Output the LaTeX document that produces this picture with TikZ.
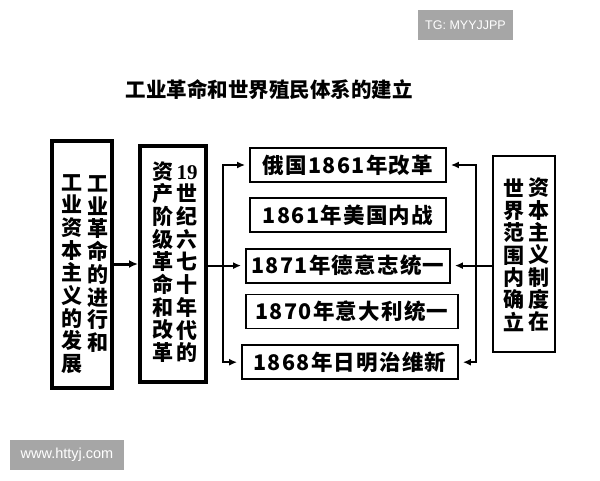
\documentclass[tikz,border=0pt]{standalone}
\usepackage{fontspec}
\newfontfamily\cjk{Noto Sans CJK SC}
\newfontfamily\numfont{Liberation Serif}
\newfontfamily\wmfont{Liberation Sans}
\usetikzlibrary{arrows.meta,positioning}
\definecolor{wmgray}{HTML}{A6A6A6}

\begin{document}
\begin{tikzpicture}[x=1pt,y=-1pt,
    every node/.style={font=\cjk\bfseries,align=center},
    bigbox/.style={draw,line width=4pt,minimum width=60pt},
    box/.style={draw,line width=1.8pt,minimum height=34pt,inner sep=0pt,
      font=\cjk\bfseries\fontsize{21.5}{24}\selectfont\addfontfeatures{LetterSpace=6}},
    col/.style={inner sep=0pt,font=\cjk\bfseries\fontsize{21}{22.7}\selectfont},
    wm/.style={fill=wmgray,text=white,inner sep=0pt},
    arr/.style={line width=2pt,-{Latex[length=8pt,width=7pt]},shorten >=4pt},
    bigarr/.style={line width=3pt,-{Latex[length=9pt,width=8pt]}}
  ]
  \useasboundingbox[fill=white] (0,0) rectangle (600,480);

  % title and watermarks
  \node[font=\cjk\bfseries\fontsize{20.5}{24}\selectfont] (title) at (269,90) {工业革命和世界殖民体系的建立};
  \node[wm,minimum width=95pt,minimum height=30pt,font=\wmfont\fontsize{12.5}{14}\selectfont] (tg) at (465.5,25) {TG: MYYJJPP};
  \node[wm,minimum width=114pt,minimum height=30pt,font=\wmfont\fontsize{14.5}{16}\selectfont] (site) at (67,455) {www.httyj.com};

  % left: industrial revolution
  \node[bigbox,minimum height=247pt] (ind) at (82,264) {};
  \node[col] (indr) at (98,264) {工\\业\\革\\命\\的\\进\\行\\和};
  \node[col] (indl) at (72,274) {工\\业\\资\\本\\主\\义\\的\\发\\展};

  % bourgeois revolutions
  \node[bigbox,minimum width=66pt,minimum height=236pt,right=24pt of ind] (bour) {};
  \node[col] (bourr) at (187,264) {{\numfont\bfseries 19}\\世\\纪\\六\\七\\十\\年\\代\\的};
  \node[col] (bourl) at (163,262) {资\\产\\阶\\级\\革\\命\\和\\改\\革};

  % the five events
  \node[box,minimum width=196pt] (rus) at (348,165) {俄国1861年改革};
  \node[box,minimum width=196pt,below=14pt of rus] (usa) {1861年美国内战};
  \node[box,minimum width=204pt,below=15pt of usa] (ger) {1871年德意志统一};
  \node[box,minimum width=212pt,below=10pt of ger,xshift=4pt] (ita) {1870年意大利统一};
  \node[box,minimum width=216pt,below=15pt of ita,xshift=-2pt] (jap) {1868年日明治维新};

  % right: capitalism established
  \node[draw,line width=1.8pt,minimum width=62pt,minimum height=196pt] (cap) at (524,254) {};
  \node[col,font=\cjk\bfseries\fontsize{21}{22.3}\selectfont] (capr) at (539,255) {资\\本\\主\\义\\制\\度\\在};
  \node[col,font=\cjk\bfseries\fontsize{21}{22.3}\selectfont] (capl) at (514,255) {世\\界\\范\\围\\内\\确\\立};

  \coordinate (lx) at (223,0);
  \coordinate (rx) at (476,0);

  \draw[bigarr] (ind) -- (bour);
  \draw[arr] (bour.east |- ger.west) -- (ger.west);
  \draw[arr] (lx |- ger.west) |- (rus.west);
  \draw[arr] (lx |- ger.west) |- (jap.west);
  \draw[arr] (cap.west |- ger.east) -- (ger.east);
  \draw[arr] (rx |- ger.east) |- (rus.east);
  \draw[arr] (rx |- ger.east) |- (jap.east);
\end{tikzpicture}
\end{document}
